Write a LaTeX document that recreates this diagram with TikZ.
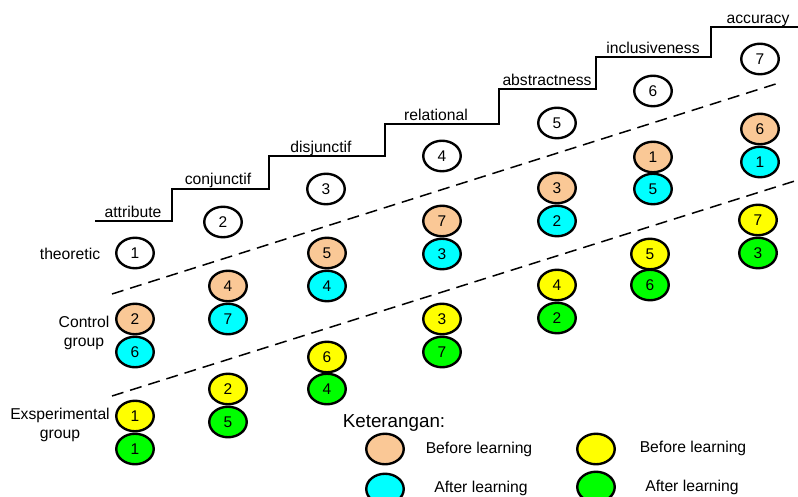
\documentclass[tikz,border=0pt]{standalone}
\usepackage{fontspec}
\setmainfont{Liberation Sans}
\usetikzlibrary{shapes.geometric}
\definecolor{peach}{RGB}{250,200,150}
\definecolor{cyanf}{RGB}{0,255,255}
\definecolor{yellowf}{RGB}{255,255,0}
\definecolor{greenf}{RGB}{0,255,0}
\begin{document}
\begin{tikzpicture}[x=1pt,y=-1pt,
  num/.style={ellipse, draw, line width=2.4pt, minimum width=37.5pt, minimum height=30.5pt, inner sep=0pt, font=\fontsize{15.5}{18}\selectfont},
  bef/.style={num, fill=peach},
  aft/.style={num, fill=cyanf},
  ebef/.style={num, fill=yellowf},
  eaft/.style={num, fill=greenf},
  lbl/.style={font=\fontsize{15.7}{18.5}\selectfont, inner sep=0pt},
  steplbl/.style={lbl, anchor=base},
  stairs/.style={line width=2.6pt, line join=miter},
  divider/.style={line width=1.5pt, dash pattern=on 12pt off 7pt}]
\useasboundingbox (0,0) rectangle (798,497);

% staircase
\draw[stairs] (95,221) -- (172,221) -- (172,189) -- (269,189) -- (269,156) -- (385,156) -- (385,124) -- (499,124) -- (499,89) -- (596,89) -- (596,57) -- (711,57) -- (711,27) -- (798,27);

\node[steplbl] (s1) at (133,218) {attribute};
\node[steplbl] (s2) at (218,185) {conjunctif};
\node[steplbl] (s3) at (321,153) {disjunctif};
\node[steplbl] (s4) at (436,121) {relational};
\node[steplbl] (s5) at (547,86) {abstractness};
\node[steplbl] (s6) at (653,54) {inclusiveness};
\node[steplbl] (s7) at (758,24) {accuracy};

% dashed dividers
\draw[divider] (112,294) -- (782,82);
\draw[divider] (112,396) -- (798,180);

% row labels
\node[lbl] (lt) at (70,254) {theoretic};
\node[lbl, align=center] (lc) at (84,333) {Control\\group};
\node[lbl, align=center] (le) at (60,425) {Exsperimental\\group};

% theoretic
\node[num] (t1) at (135,253) {1};
\node[num] (t2) at (223,222) {2};
\node[num] (t3) at (326,189) {3};
\node[num] (t4) at (442,156) {4};
\node[num] (t5) at (557,123) {5};
\node[num] (t6) at (653,91) {6};
\node[num] (t7) at (760,59) {7};

% control group
\node[bef] (cb1) at (135,319) {2};
\node[aft] (ca1) at (135,352) {6};
\node[bef] (cb2) at (228,286) {4};
\node[aft] (ca2) at (228,319) {7};
\node[bef] (cb3) at (327,253) {5};
\node[aft] (ca3) at (327,286) {4};
\node[bef] (cb4) at (442,221) {7};
\node[aft] (ca4) at (442,254) {3};
\node[bef] (cb5) at (557,188) {3};
\node[aft] (ca5) at (557,221) {2};
\node[bef] (cb6) at (653,157) {1};
\node[aft] (ca6) at (653,189) {5};
\node[bef] (cb7) at (760,129) {6};
\node[aft] (ca7) at (760,162) {1};

% experimental group
\node[ebef] (eb1) at (135,416) {1};
\node[eaft] (ea1) at (135,449) {1};
\node[ebef] (eb2) at (228,389) {2};
\node[eaft] (ea2) at (228,422) {5};
\node[ebef] (eb3) at (327,357) {6};
\node[eaft] (ea3) at (327,389) {4};
\node[ebef] (eb4) at (442,319) {3};
\node[eaft] (ea4) at (442,352) {7};
\node[ebef] (eb5) at (557,285) {4};
\node[eaft] (ea5) at (557,318) {2};
\node[ebef] (eb6) at (650,254) {5};
\node[eaft] (ea6) at (650,285) {6};
\node[ebef] (eb7) at (758,220) {7};
\node[eaft] (ea7) at (758,253) {3};

% legend
\node[lbl, font=\fontsize{18.8}{22}\selectfont] (kt) at (394,423) {Keterangan:};
\node[bef] (lg1) at (385,449) {};
\node[aft] (lg2) at (385,489) {};
\node[ebef] (lg3) at (596,449) {};
\node[eaft] (lg4) at (596,487) {};
\node[lbl] (lt1) at (479,449) {Before learning};
\node[lbl] (lt2) at (481,488) {After learning};
\node[lbl] (lt3) at (693,448) {Before learning};
\node[lbl] (lt4) at (692,487) {After learning};
\end{tikzpicture}
\end{document}
